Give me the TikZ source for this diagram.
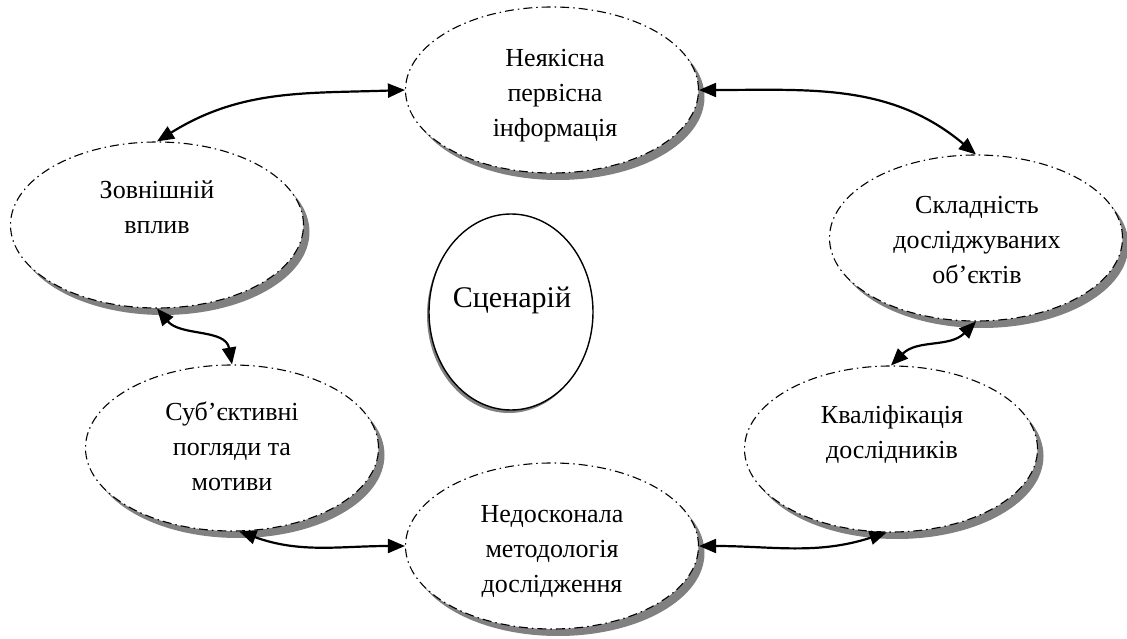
\documentclass[tikz,border=0pt]{standalone}
\usepackage{fontspec}
\setmainfont{Liberation Serif}
\usetikzlibrary{arrows.meta, shapes.geometric, shadows}

\tikzset{
  factor/.style={ellipse, draw=black, fill=white, line width=1.1pt,
    dash pattern=on 9pt off 4pt on 1.5pt off 4pt,
    minimum width=293pt, minimum height=166pt, inner sep=0pt,
    drop shadow={shadow xshift=6pt, shadow yshift=-7pt, fill=black!50, opacity=1}},
  core/.style={ellipse, draw=black, fill=white, line width=1.4pt,
    minimum width=164pt, minimum height=196pt, inner sep=0pt,
    drop shadow={shadow xshift=-2pt, shadow yshift=-3pt, fill=black!50, opacity=1}},
  lbl/.style={align=center, inner sep=0pt, font=\fontsize{26}{35}\selectfont},
  link/.style={line width=2.2pt, {Triangle[length=17pt, width=14pt]}-{Triangle[length=17pt, width=14pt]}}
}

\begin{document}
\begin{tikzpicture}[x=1pt, y=1pt]
  \useasboundingbox (0,0) rectangle (1127,638);

  % factor ellipses
  \node[factor] (nek) at (552,548) {};
  \node[factor] (zov) at (157,413) {};
  \node[factor] (skl) at (976,400) {};
  \node[factor] (kva) at (891,189) {};
  \node[factor] (sub) at (232,190) {};
  \node[factor] (ned) at (552,92) {};

  % central scenario shape
  \node[core] (scen) at (511,326) {};

  % texts
  \node[lbl] (nek-t) at (555,542) {Неякісна\\первісна\\інформація};
  \node[lbl] (zov-t) at (157,431) {Зовнішній\\вплив};
  \node[lbl] (skl-t) at (977,398) {Складність\\досліджуваних\\об’єктів};
  \node[lbl] (kva-t) at (892,204) {Кваліфікація\\дослідників};
  \node[lbl] (sub-t) at (232,192) {Суб’єктивні\\погляди та\\мотиви};
  \node[lbl] (ned-t) at (552,87) {Недосконала\\методологія\\дослідження};
  \node[lbl, font=\fontsize{30}{36}\selectfont] (scen-t) at (512,338) {Сценарій};

  % two-headed links between factors
  \draw[link] (nek.west) to[out=182, in=32] (zov.north);
  \draw[link] (nek.east) to[out=0, in=140] (skl.north);
  \draw[link] (zov.south) to[out=-50, in=100] (sub.north);
  \draw[link] (skl.south) to[out=-135, in=45] (kva.north);
  \draw[link] (sub.-85) to[out=-20, in=180] (ned.west);
  \draw[link] (ned.east) to[out=0, in=198] (kva.-93);
\end{tikzpicture}
\end{document}
